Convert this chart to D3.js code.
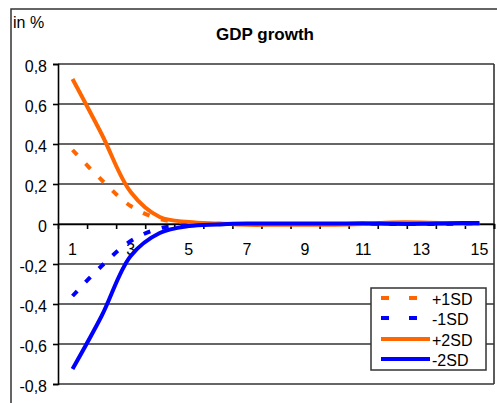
<!DOCTYPE html>
<html>
<head>
<meta charset="utf-8">
<script src="https://cdn.jsdelivr.net/npm/d3@7"></script>
<style>
  html, body { margin: 0; padding: 0; background: #fff; }
  svg { display: block; }
  text { font-family: "Liberation Sans", Arial, sans-serif; fill: #000; }
</style>
</head>
<body>
<svg id="chart" width="497" height="403"></svg>
<script>
// ---- data ----
const categories = [1, 2, 3, 4, 5, 6, 7, 8, 9, 10, 11, 12, 13, 14, 15];
const xTickLabels = ["1", "3", "5", "7", "9", "11", "13", "15"];
const yTicks = [-0.8, -0.6, -0.4, -0.2, 0, 0.2, 0.4, 0.6, 0.8];
const seriesNames = ["+1SD", "-1SD", "+2SD", "-2SD"];
const plus1SD  = [0.37, 0.22, 0.09, 0.025, 0.006, 0.001, 0, 0, 0, 0, 0, 0, 0, 0, 0];
const minus1SD = [-0.36, -0.21, -0.085, -0.022, -0.005, -0.001, 0, 0, 0, 0, 0, 0, 0, 0, 0];
const plus2SD  = [0.725, 0.45, 0.16, 0.035, 0.01, 0.002, -0.004, -0.004, -0.004, -0.004, 0, 0.008, 0.008, 0.004, 0];
const minus2SD = [-0.725, -0.46, -0.16, -0.045, -0.01, -0.002, 0.002, 0.002, 0.002, 0.002, 0.004, 0.001, 0.001, 0.004, 0.005];

const series = [
  { name: seriesNames[0], values: plus1SD,  color: "#FF6600", dashed: true },
  { name: seriesNames[1], values: minus1SD, color: "#0000FF", dashed: true },
  { name: seriesNames[2], values: plus2SD,  color: "#FF6600", dashed: false },
  { name: seriesNames[3], values: minus2SD, color: "#0000FF", dashed: false }
];

// ---- layout ----
const svg = d3.select("#chart");
const plot = { left: 58, top: 64, right: 494, bottom: 384 };

// outer chart frame
svg.append("rect")
  .attr("x", 11).attr("y", 9).attr("width", 500).attr("height", 410)
  .attr("fill", "#fff").attr("stroke", "#333").attr("stroke-width", 1.5);

const x = d3.scaleLinear().domain([0.5, 15.5]).range([plot.left, plot.right]);
const y = d3.scaleLinear().domain([-0.8, 0.8]).range([plot.bottom, plot.top]);

// gridlines
svg.append("g").selectAll("line").data(yTicks).join("line")
  .attr("x1", plot.left).attr("x2", plot.right)
  .attr("y1", d => y(d)).attr("y2", d => y(d))
  .attr("stroke", "#333").attr("stroke-width", 1.6);

// right border of plot area
svg.append("line")
  .attr("x1", plot.right).attr("x2", plot.right)
  .attr("y1", plot.top).attr("y2", plot.bottom)
  .attr("stroke", "#333").attr("stroke-width", 1.6);

// y axis
const yAxis = svg.append("g")
  .attr("transform", `translate(${plot.left},0)`)
  .call(d3.axisLeft(y).tickValues(yTicks).tickSize(5).tickPadding(6)
    .tickFormat(d => d === 0 ? "0" : d3.format(".1f")(d).replace(".", ",").replace("−", "-")));
yAxis.select(".domain").attr("stroke", "#000").attr("stroke-width", 1.6);
yAxis.selectAll(".tick line").attr("stroke", "#000").attr("stroke-width", 1.6);
yAxis.selectAll(".tick text").attr("font-size", 16).attr("dy", "0.45em")
  .style("font-family", "'Liberation Sans', Arial, sans-serif");

// x axis (at zero): ticks at category boundaries
const boundaries = categories.map(c => c + 0.5);
const xAxis = svg.append("g")
  .attr("transform", `translate(0,${y(0)})`)
  .call(d3.axisBottom(x).tickValues(boundaries).tickSize(5).tickFormat(""));
xAxis.select(".domain").attr("stroke", "#000").attr("stroke-width", 1.6);
xAxis.selectAll(".tick line").attr("stroke", "#000").attr("stroke-width", 1.6);

// x labels at odd categories
const labelCats = categories.filter(c => c % 2 === 1);
svg.append("g").selectAll("text").data(labelCats).join("text")
  .attr("x", d => x(d)).attr("y", 255)
  .attr("text-anchor", "middle").attr("font-size", 16)
  .text((d, i) => xTickLabels[i]);

// lines
const line = d3.line()
  .x((d, i) => x(categories[i]))
  .y(d => y(d))
  .curve(d3.curveCatmullRom.alpha(0.5));

svg.append("g").selectAll("path").data(series).join("path")
  .attr("d", d => line(d.values))
  .attr("fill", "none")
  .attr("stroke", d => d.color)
  .attr("stroke-width", 4)
  .attr("stroke-dasharray", d => d.dashed ? "7,12" : null);

// title & unit
svg.append("text").attr("x", 265).attr("y", 40)
  .attr("text-anchor", "middle").attr("font-size", 17).attr("font-weight", "bold")
  .text("GDP growth");
svg.append("text").attr("x", 13).attr("y", 28)
  .attr("font-size", 16).text("in %");

// legend
const lg = svg.append("g");
lg.append("rect").attr("x", 371).attr("y", 288).attr("width", 115).attr("height", 82)
  .attr("fill", "#fff").attr("stroke", "#333").attr("stroke-width", 1.5);
const legendY = [298, 318, 339, 359];
const items = lg.selectAll("g.item").data(series).join("g").attr("class", "item");
items.append("line")
  .attr("x1", 381).attr("x2", 430)
  .attr("y1", (d, i) => legendY[i]).attr("y2", (d, i) => legendY[i])
  .attr("stroke", d => d.color).attr("stroke-width", 4)
  .attr("stroke-dasharray", d => d.dashed ? "8,20" : null);
items.append("text")
  .attr("x", 432).attr("y", (d, i) => legendY[i] + 7)
  .attr("font-size", 16)
  .text(d => d.name);
</script>
</body>
</html>
